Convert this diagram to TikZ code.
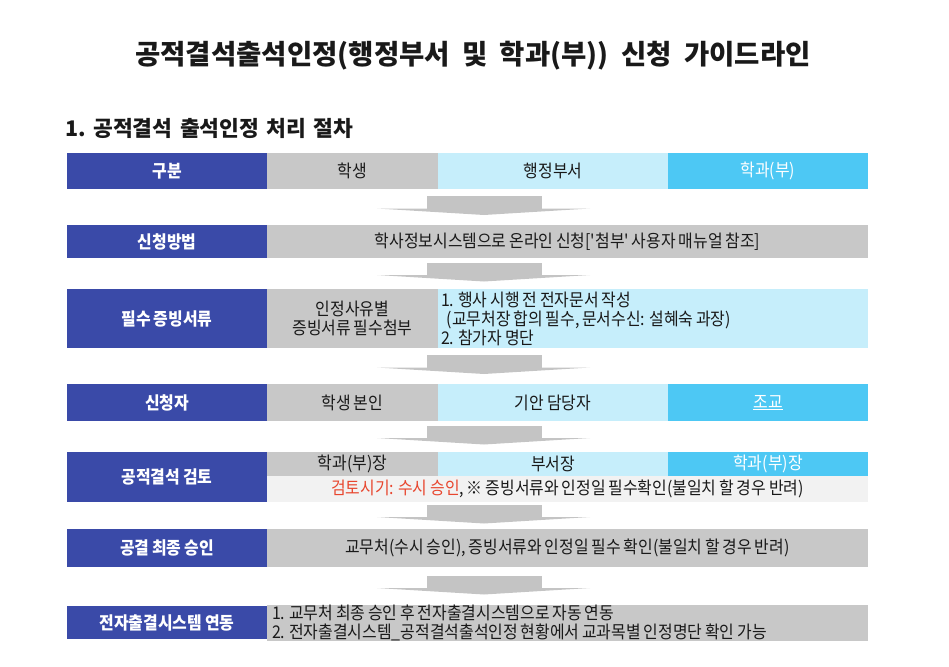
\documentclass[tikz,border=0pt]{standalone}
\usepackage{fontspec}
\setmainfont{Noto Sans CJK KR}
\newfontfamily\tblfont[FakeStretch=0.91, WordSpace=0.8]{Noto Sans CJK KR}
\usetikzlibrary{calc}

\definecolor{hdrblue}{HTML}{3A4AA8}
\definecolor{cellgray}{HTML}{C8C8C8}
\definecolor{skylight}{HTML}{C6EEFB}
\definecolor{skydeep}{HTML}{4DC8F4}
\definecolor{palegray}{HTML}{F2F2F2}
\definecolor{flowgray}{HTML}{C4C4C4}
\definecolor{checkred}{HTML}{E8462E}

% fat gray arrow between two rows
\newcommand{\flowdown}[2]{%
  \coordinate (mid) at ($(#1.south)!0.5!(#2.north)$);
  \coordinate (fc) at (axis |- mid);
  \fill[flowgray] ([shift={(-57,-11)}]fc) rectangle ([shift={(58,2)}]fc);
  \fill[flowgray] ([shift={(-107,1.5)}]fc) -- ([shift={(106,1.5)}]fc) -- ([shift={(0,8)}]fc) -- cycle;
}

\begin{document}
\begin{tikzpicture}[
    x=1pt, y=-1pt,
    every node/.style={inner sep=0pt, text=black!90, font=\tblfont\fontsize{17.5}{19}\selectfont},
    lbl/.style={fill=hdrblue, text=white, minimum width=200, font=\tblfont\bfseries\fontsize{17.5}{19}\selectfont},
    gcell/.style={fill=cellgray, align=center},
    scell/.style={fill=skylight, align=center},
    ccell/.style={fill=skydeep, text=white},
    pcell/.style={fill=palegray}
  ]
    \path[use as bounding box] (0,0) rectangle (949,666);
    \coordinate (axis) at (484,0);

    % Title and section heading
    \node[font=\bfseries\fontsize{27.5}{32}\selectfont] (title) at (473,56)
      {공적결석출석인정(행정부서\hspace{.45em}및\hspace{.45em}학과(부))\hspace{.45em}신청\hspace{.45em}가이드라인};
    \node[anchor=west, font=\bfseries\fontsize{21.5}{26}\selectfont] (heading) at (65,128)
      {1.\hspace{.35em}공적결석\hspace{.35em}출석인정\hspace{.35em}처리\hspace{.35em}절차};

    % Header row
    \node[lbl, minimum height=36] (gubun) at (167,171) {구분};
    \node[gcell, minimum width=171, minimum height=36] (hstudent) at (352.5,171) {학생};
    \node[scell, minimum width=230, minimum height=36] (hadmin) at (553,171) {행정부서};
    \node[ccell, minimum width=200, minimum height=36] (hdept) at (768,171) {학과(부)};

    % Method row
    \node[lbl, minimum height=33] (mlabel) at (167,241.5) {신청방법};
    \node[gcell, minimum width=601, minimum height=33] (mtext) at (567.5,241.5)
      {학사정보시스템으로 온라인 신청['첨부' 사용자 매뉴얼 참조]};

    % Documents row
    \node[lbl, minimum height=59] (dlabel) at (167,318.5) {필수 증빙서류};
    \node[gcell, minimum width=171, minimum height=59] (dstudent) at (352.5,318.5)
      {인정사유별\\증빙서류 필수첨부};
    \node[scell, align=flush left, text width=424, inner xsep=3, minimum height=59] (dadmin) at (653,318.5)
      {1. 행사 시행 전 전자문서 작성\\\ \ (교무처장 합의 필수, 문서수신: 설혜숙 과장)\\2. 참가자 명단};

    % Applicant row
    \node[lbl, minimum height=37] (alabel) at (167,402.5) {신청자};
    \node[gcell, minimum width=171, minimum height=37] (astudent) at (352.5,402.5) {학생 본인};
    \node[scell, minimum width=230, minimum height=37] (aadmin) at (553,402.5) {기안 담당자};
    \node[ccell, minimum width=200, minimum height=37] (adept) at (768,402.5) {\underline{조교}};

    % Review row
    \node[lbl, minimum height=50] (rlabel) at (167,477) {공적결석 검토};
    \node[gcell, minimum width=171, minimum height=24] (rstudent) at (352.5,464) {학과(부)장};
    \node[scell, minimum width=230, minimum height=24] (radmin) at (553,464) {부서장};
    \node[ccell, minimum width=200, minimum height=24] (rdept) at (768,464) {학과(부)장};
    \node[pcell, minimum width=601, minimum height=26] (rnote) at (567.5,489)
      {{\color{checkred}검토시기: 수시 승인}, ※ 증빙서류와 인정일 필수확인(불일치 할 경우 반려)};

    % Final approval row
    \node[lbl, minimum height=38] (flabel) at (167,548) {공결 최종 승인};
    \node[gcell, minimum width=601, minimum height=38] (ftext) at (567.5,548)
      {교무처(수시 승인), 증빙서류와 인정일 필수 확인(불일치 할 경우 반려)};

    % E-attendance row
    \node[lbl, minimum height=33] (elabel) at (167,622.5) {전자출결시스템 연동};
    \node[gcell, align=flush left, text width=591, inner xsep=5, minimum height=33] (etext) at (567.5,622.5)
      {1. 교무처 최종 승인 후 전자출결시스템으로 자동 연동\\2. 전자출결시스템\_공적결석출석인정 현황에서 교과목별 인정명단 확인 가능};

    % Arrows between rows
    \flowdown{gubun}{mlabel}
    \flowdown{mlabel}{dlabel}
    \flowdown{dlabel}{alabel}
    \flowdown{alabel}{rlabel}
    \flowdown{rlabel}{flabel}
    \flowdown{flabel}{elabel}

\end{tikzpicture}
\end{document}
